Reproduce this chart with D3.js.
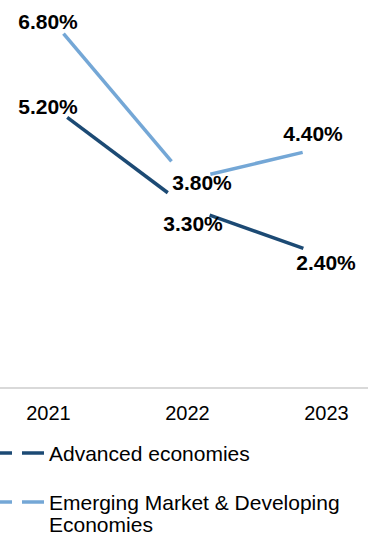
<!DOCTYPE html>
<html>
<head>
<meta charset="utf-8">
<script src="https://cdn.jsdelivr.net/npm/d3@7"></script>
<style>
  html, body { margin: 0; padding: 0; background: #fff; }
  svg { display: block; font-family: Arial, "Liberation Sans", sans-serif; }
</style>
</head>
<body>
<svg id="chart" width="368" height="535"></svg>
<script>
// Real GDP growth, projected
const years = ["2021", "2022", "2023"];
const advanced = [5.2, 3.3, 2.4];
const emerging = [6.8, 3.8, 4.4];
const seriesNames = ["Advanced economies", "Emerging Market & Developing Economies"];

const colors = ["#1c4a74", "#74a7d6"];

// label placement relative to each point (dx, dy of the label's visual centre)
const labelShift = [
  [[0, 3.5], [6, 16], [0, 6]],
  [[0, 6], [15, 3], [-13, -13]]
];

const svg = d3.select("#chart");
const W = 368;

const x = d3.scalePoint().domain(years).range([48, 326]);
const y = d3.scaleLinear().domain([0, 7]).range([388, 4.4]);

// baseline rule
svg.append("line")
  .attr("x1", 0).attr("x2", W)
  .attr("y1", y(0)).attr("y2", y(0))
  .attr("stroke", "#d9d9d9").attr("stroke-width", 2);

// category axis (labels only)
const axis = svg.append("g")
  .attr("transform", `translate(0,${y(0)})`)
  .call(d3.axisBottom(x).tickSize(0).tickPadding(18));
axis.select(".domain").remove();
axis.selectAll("text")
  .attr("font-size", 20)
  .attr("font-family", "Arial, 'Liberation Sans', sans-serif")
  .attr("fill", "#000");

const data = [advanced, emerging].map((vals, s) =>
  vals.map((v, i) => ({ s, i, year: years[i], v, px: x(years[i]), py: y(v) }))
);

// each line is drawn as separate segments that stop short of the points
const gap = 24;
data.forEach((pts, s) => {
  const segs = d3.pairs(pts).map(([a, b]) => {
    const dx = b.px - a.px, dy = b.py - a.py;
    const len = Math.hypot(dx, dy);
    const ux = dx / len, uy = dy / len;
    return [[a.px + ux * gap, a.py + uy * gap], [b.px - ux * gap, b.py - uy * gap]];
  });
  svg.append("g").selectAll("path").data(segs).join("path")
    .attr("d", d => d3.line()(d))
    .attr("fill", "none")
    .attr("stroke", colors[s])
    .attr("stroke-width", 3.5);
});

// value labels
data.forEach((pts, s) => {
  svg.append("g").selectAll("text").data(pts).join("text")
    .attr("x", d => d.px + labelShift[s][d.i][0])
    .attr("y", d => d.py + labelShift[s][d.i][1] + 7.5)
    .attr("text-anchor", "middle")
    .attr("font-size", 21)
    .attr("font-weight", "bold")
    .attr("fill", "#000")
    .text(d => d.v.toFixed(2) + "%");
});

// legend
const legendRows = [
  { lines: ["Advanced economies"], y: 453 },
  { lines: ["Emerging Market & Developing", "Economies"], y: 502 }
];
legendRows.forEach((row, s) => {
  const g = svg.append("g").attr("transform", `translate(0,${row.y})`);
  [[-10, 12], [22, 44]].forEach(([a, b]) => {
    g.append("line").attr("x1", a).attr("x2", b).attr("y1", 0).attr("y2", 0)
      .attr("stroke", colors[s]).attr("stroke-width", 3.5);
  });
  row.lines.forEach((t, k) => {
    g.append("text")
      .attr("x", 49).attr("y", 7.5 + k * 22)
      .attr("font-size", 21)
      .attr("fill", "#000")
      .text(t);
  });
});
</script>
</body>
</html>
